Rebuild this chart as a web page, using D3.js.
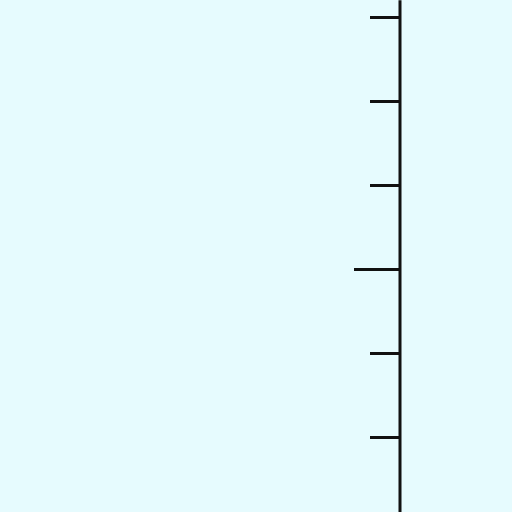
<!DOCTYPE html>
<html><head><meta charset="utf-8">
<script src="https://cdn.jsdelivr.net/npm/d3@7"></script>
<style>html,body{margin:0;padding:0;background:#e6fbfe;}svg{display:block;}</style>
</head><body>
<script>
const tickValues = [3, 2, 1, 0, -1, -2];
const majorTicks = [0];
const axisExtent = [3.2, -2.9];

const W = 512, H = 512;
const svg = d3.select("body").append("svg").attr("width", W).attr("height", H);
svg.append("rect").attr("width", W).attr("height", H).attr("fill", "#e6fbfe");

const y = d3.scaleLinear().domain([3, -2]).range([17, 437]);

const g = svg.append("g").attr("transform", "translate(400,0)");
const axis = d3.axisLeft(y).tickValues(tickValues).tickSize(30).tickFormat("");
g.call(axis);
g.select(".domain").remove();
g.selectAll(".tick line")
  .attr("stroke", "#111").attr("stroke-width", 3)
  .attr("x2", d => majorTicks.includes(d) ? -46 : -30);
g.append("line")
  .attr("x1", 0).attr("x2", 0)
  .attr("y1", y(axisExtent[0])).attr("y2", y(axisExtent[1]))
  .attr("stroke", "#111").attr("stroke-width", 3);
</script>
</body></html>
